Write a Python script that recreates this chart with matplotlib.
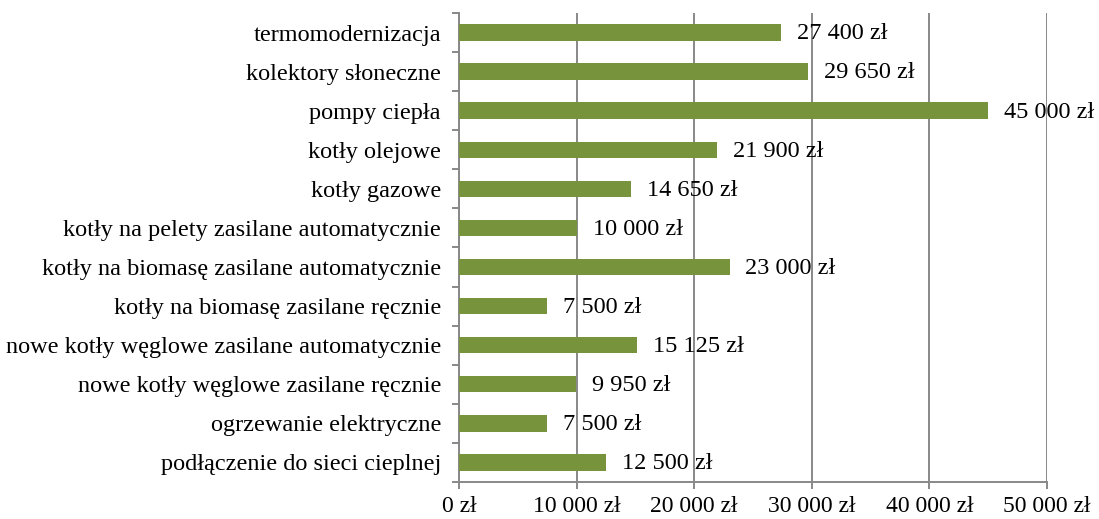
import matplotlib.pyplot as plt
from matplotlib.ticker import FuncFormatter

plt.rcParams['font.family'] = ['Liberation Serif', 'DejaVu Serif']

# Kategorie (od dołu do góry)
kategorie = [
    'podłączenie do sieci cieplnej',
    'ogrzewanie elektryczne',
    'nowe kotły węglowe zasilane ręcznie',
    'nowe kotły węglowe zasilane automatycznie',
    'kotły na biomasę zasilane ręcznie',
    'kotły na biomasę zasilane automatycznie',
    'kotły na pelety zasilane automatycznie',
    'kotły gazowe',
    'kotły olejowe',
    'pompy ciepła',
    'kolektory słoneczne',
    'termomodernizacja',
]
koszty = [12500, 7500, 9950, 15125, 7500, 23000, 10000, 14650, 21900, 45000, 29650, 27400]


def zl(v):
    # format "27 400 zł"
    return '{:,.0f} zł'.format(v).replace(',', ' ')


fig = plt.figure(figsize=(10.99, 5.19), dpi=100)
ax = fig.add_axes([0.4177, 0.0713, 0.535, 0.9037])

szary = '#888888'
ax.barh(range(len(kategorie)), koszty, height=0.42, color='#77933C', zorder=3)

for i, v in enumerate(koszty):
    ax.annotate(zl(v), (v, i), xytext=(11.5, -1), textcoords='offset points',
                va='center', ha='left', fontsize=17.5, zorder=4)

ax.set_xlim(0, 50000)
ax.set_ylim(-0.5, len(kategorie) - 0.5)
ax.set_xticks(range(0, 50001, 10000))
ax.xaxis.set_major_formatter(FuncFormatter(lambda v, p: zl(v)))
ax.set_yticks(range(len(kategorie)))
ax.set_yticklabels(kategorie)
ax.set_yticks([i - 0.5 for i in range(len(kategorie) + 1)], minor=True)

ax.grid(axis='x', color=szary, linewidth=1.4, zorder=0)
for s in ['top', 'right']:
    ax.spines[s].set_visible(False)
for s in ['left', 'bottom']:
    ax.spines[s].set_color(szary)
    ax.spines[s].set_linewidth(1.4)

ax.tick_params(axis='y', which='major', length=0, pad=13, labelsize=17.5)
ax.tick_params(axis='y', which='minor', length=5, color=szary, width=1.4)
ax.tick_params(axis='x', length=5, color=szary, width=1.4, pad=5, labelsize=17)

plt.savefig('out.png', dpi=100)
